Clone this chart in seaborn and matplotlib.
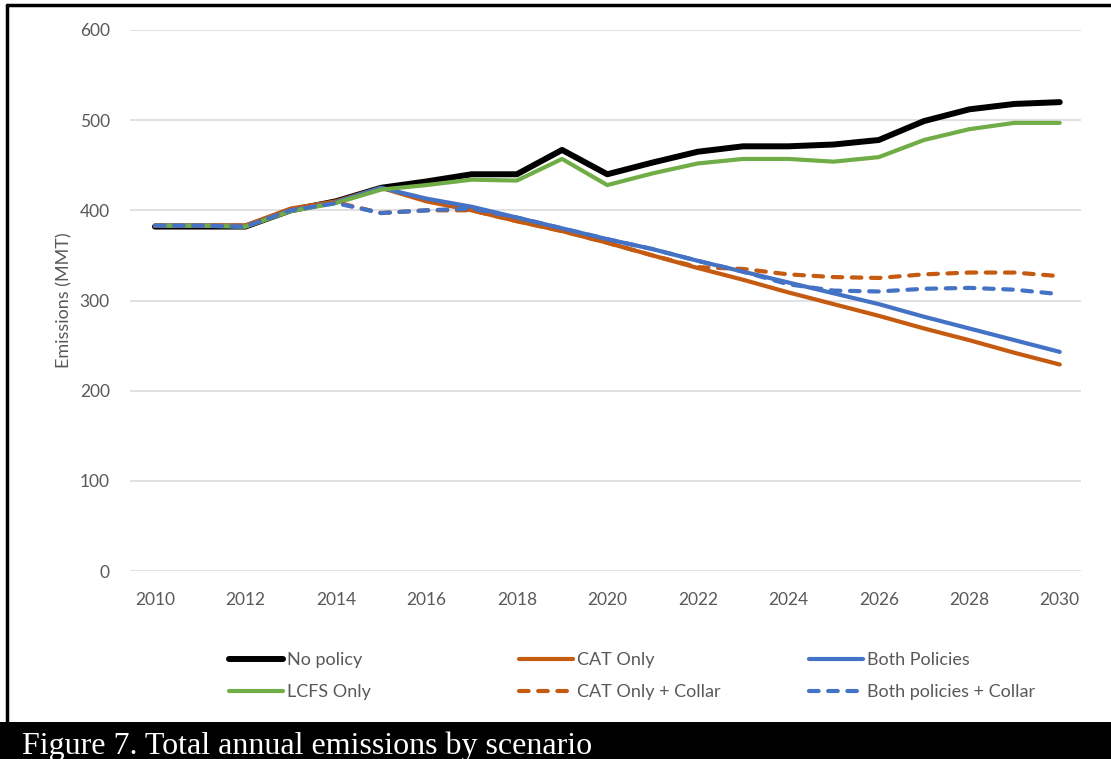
import numpy as np
import pandas as pd
import matplotlib
matplotlib.use("Agg")
import matplotlib.pyplot as plt
from matplotlib.lines import Line2D
import seaborn as sns

years = list(range(2010, 2031))

no_policy = [382, 382, 382, 400, 410, 425, 432, 440, 440, 467, 440, 453, 465, 471, 471, 473, 478, 499, 512, 518, 520]
lcfs_only = [383, 383, 382, 399, 408, 423, 428, 434, 433, 457, 428, 441, 452, 457, 457, 454, 459, 478, 490, 497, 497]
cat_only = [383, 383, 383, 402, 410, 425, 410, 400, 388, 377, 364, 350, 336, 323, 309, 296, 283, 269, 256, 242, 229]
both_policies = [383, 383, 382, 400, 409, 425, 413, 404, 392, 380, 368, 357, 344, 332, 320, 308, 296, 282, 269, 256, 243]
cat_collar = [383, 383, 383, 401, 409, 397, 400, 400, 388, 377, 364, 350, 337, 335, 329, 326, 325, 329, 331, 331, 327]
both_collar = [383, 383, 382, 400, 408, 397, 400, 402, 392, 380, 368, 357, 344, 332, 318, 311, 310, 313, 314, 312, 307]

series_names = ["No policy", "CAT Only", "Both Policies", "LCFS Only",
                "CAT Only + Collar", "Both policies + Collar"]
series_values = [no_policy, cat_only, both_policies, lcfs_only, cat_collar, both_collar]

y_ticks = [0, 100, 200, 300, 400, 500, 600]
x_ticks = list(range(2010, 2031, 2))

title_text = "Figure 7. Total annual emissions by scenario"
y_label = "Emissions (MMT)"

BLACK = "#000000"
ORANGE = "#C55A11"
BLUE = "#4472C4"
GREEN = "#70AD47"
GREY_TXT = "#595959"

DASH = (0, (2.3, 2.3))
styles = {
    "No policy": dict(color=BLACK, lw=4.3, ls="-"),
    "CAT Only": dict(color=ORANGE, lw=3.0, ls="-"),
    "Both Policies": dict(color=BLUE, lw=3.0, ls="-"),
    "LCFS Only": dict(color=GREEN, lw=3.0, ls="-"),
    "CAT Only + Collar": dict(color=ORANGE, lw=3.0, ls=DASH),
    "Both policies + Collar": dict(color=BLUE, lw=3.0, ls=DASH),
}
draw_order = ["No policy", "CAT Only", "Both Policies", "LCFS Only",
              "CAT Only + Collar", "Both policies + Collar"]

frames = []
for name, vals in zip(series_names, series_values):
    frames.append(pd.DataFrame({"year": years, "value": vals, "scenario": name}))
df = pd.concat(frames, ignore_index=True)

sns.set_theme(style="white")
plt.rcParams["font.family"] = ["Lato", "DejaVu Sans"]

fig = plt.figure(figsize=(11.11, 7.59), dpi=100)
W, H = 1111, 759
ax = fig.add_axes([130 / W, 1 - 571 / H, (1081 - 130) / W, (571 - 30) / H])

for name in draw_order:
    st = styles[name]
    sub = df[df["scenario"] == name]
    sns.lineplot(data=sub, x="year", y="value", ax=ax, color=st["color"],
                 linewidth=st["lw"], linestyle=st["ls"], legend=False,
                 solid_capstyle="round", dash_capstyle="round")

ax.set_xlim(2009.45, 2030.47)
ax.set_ylim(0, 600)
ax.set_yticks(y_ticks)
ax.set_xticks(x_ticks)
ax.set_yticklabels([str(v) for v in y_ticks])
ax.set_xticklabels([str(v) for v in x_ticks])
ax.grid(axis="y", color="#D9D9D9", linewidth=1.1)
ax.grid(axis="x", visible=False)
ax.set_axisbelow(True)
for sp in ax.spines.values():
    sp.set_visible(False)
ax.tick_params(axis="both", length=0, labelsize=12.5, labelcolor=GREY_TXT)
ax.tick_params(axis="y", pad=14.5)
ax.tick_params(axis="x", pad=15)
ax.set_xlabel("")
ax.set_ylabel(y_label, fontsize=13, color=GREY_TXT)
ax.yaxis.set_label_coords((72 - 130) / (1081 - 130), 0.5)

# legend: three columns, two rows each
columns = [["No policy", "LCFS Only"],
           ["CAT Only", "CAT Only + Collar"],
           ["Both Policies", "Both policies + Collar"]]
col_x = [229, 519, 809]
for xs, names in zip(col_x, columns):
    handles = []
    for n in names:
        st = styles[n]
        handles.append(Line2D([0], [0], color=st["color"], lw=st["lw"], ls=st["ls"],
                              solid_capstyle="round", dash_capstyle="round"))
    leg = fig.legend(handles, names, loc="upper left",
                     bbox_to_anchor=(xs / W, 1 - 652 / H), frameon=False,
                     fontsize=13, handlelength=3.0, handletextpad=0.2,
                     labelspacing=0.88, borderaxespad=0, borderpad=0)
    for t in leg.get_texts():
        t.set_color(GREY_TXT)

# caption band and frame
fig.patches.append(plt.Rectangle((0, 0), 1, 37 / H, transform=fig.transFigure,
                                 facecolor="black", edgecolor="none", zorder=5))
fig.text(22 / W, 5 / H, title_text, color="white", fontsize=23,
         family="Liberation Serif", ha="left", va="baseline", zorder=6)
fig.lines.append(Line2D([7 / W, 7 / W], [37 / H, 1 - 5 / H], transform=fig.transFigure,
                        color="black", lw=2.5))
fig.lines.append(Line2D([7 / W, 1], [1 - 5 / H, 1 - 5 / H], transform=fig.transFigure,
                        color="black", lw=2.5))

fig.savefig("out.png", dpi=100)
